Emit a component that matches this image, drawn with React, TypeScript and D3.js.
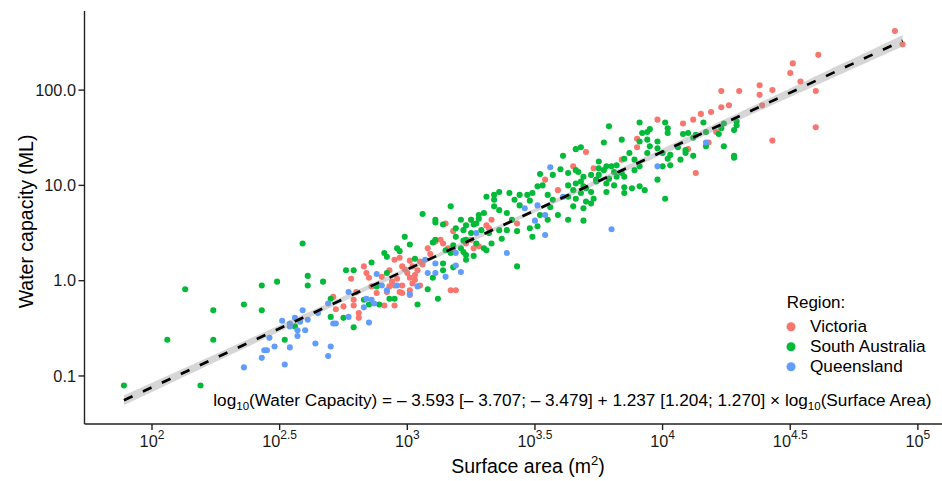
import React from 'react';
import * as d3 from 'd3';

// log10(surface area, m^2) and log10(water capacity, ML) per region
const vicLogArea = [3.15, 3.18, 3.13, 3.11, 3.14, 3.16, 3.26, 3.25, 3.01, 3.05, 3.02, 2.98, 2.95, 2.97, 2.93, 2.83, 2.84, 2.78, 2.85, 2.90, 3.00, 3.04, 3.01, 3.03, 2.98, 3.05, 3.01, 2.97, 2.95, 2.93, 2.86, 2.80, 2.88, 2.92, 2.98, 3.01, 2.91, 2.95, 2.79, 2.75, 2.81, 2.81, 3.17, 3.19, 3.23, 3.08, 3.09,
  2.99, 3.03, 2.96, 3.06, 2.94, 3.02, 2.71, 2.72, 2.79,
  3.70, 3.65, 3.54, 3.59, 3.33, 3.31, 3.25, 3.32, 3.18, 3.28, 3.43, 3.73,
  4.23, 4.30, 4.26, 4.23, 4.19, 4.15, 4.12, 4.08, 3.98, 3.90, 3.90, 4.18, 4.10, 3.84, 3.79, 4.13, 4.21,
  4.91, 4.94, 4.61, 4.51, 4.50, 4.54, 4.60, 4.38, 4.38, 4.43, 4.60, 4.43, 4.39];
const vicLogCap = [0.60, 0.52, 0.43, 0.41, 0.39, 0.34, 0.34, 0.43, 0.21, 0.20, 0.15, 0.15, 0.22, 0.24, 0.11, 0.15, 0.08, 0.02, 0.03, 0.04, 0.08, 0.11, 0.03, 0.01, -0.05, -0.05, -0.10, -0.12, -0.05, -0.06, -0.06, -0.12, -0.13, -0.12, -0.13, -0.15, -0.26, -0.26, -0.26, -0.27, -0.34, -0.39, -0.10, -0.10, 0.39, 0.34, 0.28,
  0.12, 0.06, 0.02, 0.17, -0.01, -0.03, -0.17, -0.30, -0.20,
  1.35, 1.20, 1.06, 0.95, 0.64, 0.58, 0.64, 0.55, 0.32, 0.36, 0.60, 1.18,
  1.99, 1.99, 1.84, 1.82, 1.77, 1.75, 1.69, 1.65, 1.69, 1.49, 1.40, 1.45, 1.38, 1.27, 1.07, 1.13, 1.56,
  2.62, 2.48, 2.37, 2.28, 2.18, 2.09, 1.99, 2.05, 1.95, 2.00, 1.61, 1.47, 1.84];

const saLogArea = [2.59, 2.61, 2.61, 2.49, 2.43, 2.13, 2.36, 2.24, 2.43, 2.06, 2.24, 2.52, 1.89, 2.19, 2.56,
  3.17, 3.06, 3.11, 3.14, 3.21, 3.25, 3.28, 3.23, 3.26, 3.19, 3.22, 3.10, 2.99, 3.01, 2.91, 2.92, 2.96, 2.97, 3.03, 2.86, 2.76, 2.79, 2.92, 2.67, 3.17, 3.22, 3.23, 3.26, 3.14, 3.18, 3.10, 3.08, 3.12, 3.04, 2.95, 2.93, 2.89, 2.85, 2.83, 2.70, 2.70, 2.75, 2.79, 2.88,
  3.66, 3.68, 3.61, 3.52, 3.57, 3.60, 3.63, 3.67, 3.63, 3.66, 3.70, 3.74, 3.72, 3.73, 3.72, 3.68, 3.66, 3.63, 3.65, 3.69, 3.69, 3.63, 3.59, 3.56, 3.57, 3.55, 3.53, 3.51, 3.49, 3.47, 3.44, 3.42, 3.40, 3.36, 3.34, 3.31, 3.44, 3.48, 3.52, 3.55, 3.51, 3.48, 3.49, 3.43, 3.41, 3.39, 3.36, 3.34, 3.34, 3.30, 3.28, 3.27, 3.19, 3.22, 3.25, 3.29, 3.32, 3.36, 3.39, 3.37, 3.33, 3.30, 3.27, 3.23, 3.18, 3.15, 3.21, 3.23, 3.31, 3.11, 3.11, 3.43, 3.14,
  3.91, 3.79, 4.01, 4.02, 4.02, 3.95, 3.94, 3.92, 4.16, 4.24, 4.23, 4.29, 4.28, 4.10, 4.13, 4.08, 4.12, 3.77, 3.84, 3.91, 3.94, 3.98, 3.95, 3.98, 3.94, 4.00, 4.03, 4.02, 4.06, 4.09, 4.09, 4.12, 4.07, 4.03, 4.00, 4.17, 4.24, 4.28, 3.87, 3.89, 3.91, 3.89, 3.85, 3.82, 3.80, 3.75, 3.75, 3.77, 3.78, 3.81, 3.84, 3.85, 3.82, 3.79, 3.75, 3.72, 3.69, 3.66, 3.68, 3.74, 3.78, 3.81, 3.85, 3.88, 3.91, 3.93, 3.78, 3.85, 3.69, 3.65, 3.70, 3.98, 4.01,
  4.22, 4.17, 4.29, 4.28];
const saLogCap = [0.39, 0.05, -0.05, -0.01, -0.05, -0.09, -0.25, -0.31, -0.31, -0.62, -0.62, -0.62, -1.10, -1.10, -0.48,
  0.78, 0.70, 0.61, 0.59, 0.64, 0.64, 0.69, 0.58, 0.59, 0.46, 0.42, 0.40, 0.46, 0.38, 0.29, 0.25, 0.34, 0.31, 0.23, 0.19, 0.11, 0.11, 0.08, -0.01, 0.29, 0.30, 0.22, 0.26, 0.11, 0.14, 0.03, -0.09, -0.19, -0.25, -0.19, -0.19, -0.25, -0.25, -0.20, -0.19, -0.38, -0.39, -0.49, -0.06,
  1.38, 1.40, 1.31, 1.12, 1.11, 1.17, 1.13, 1.14, 1.00, 1.02, 0.97, 1.06, 0.93, 0.86, 0.81, 0.92, 0.86, 0.88, 0.78, 0.76, 0.63, 0.64, 0.69, 0.77, 0.85, 0.90, 1.00, 0.99, 0.92, 0.90, 0.90, 0.85, 0.92, 0.93, 0.90, 0.88, 0.79, 0.84, 0.69, 0.64, 0.57, 0.55, 0.46, 0.52, 0.64, 0.71, 0.74, 0.85, 0.78, 0.71, 0.65, 0.60, 0.55, 0.53, 0.50, 0.53, 0.50, 0.53, 0.53, 0.44, 0.39, 0.34, 0.39, 0.43, 0.37, 0.32, 0.34, 0.27, 0.32, 0.43, 0.64, 0.15, 0.18,
  1.66, 1.62, 1.66, 1.60, 1.55, 1.59, 1.56, 1.55, 1.66, 1.65, 1.60, 1.63, 1.58, 1.55, 1.53, 1.54, 1.50, 1.45, 1.48, 1.46, 1.48, 1.46, 1.41, 1.39, 1.34, 1.34, 1.32, 1.28, 1.40, 1.37, 1.34, 1.31, 1.27, 1.21, 1.20, 1.41, 1.41, 1.31, 1.34, 1.27, 1.20, 1.16, 1.28, 1.21, 1.20, 1.25, 1.18, 1.16, 1.20, 1.14, 1.13, 1.09, 1.09, 1.07, 1.11, 1.11, 1.09, 1.16, 1.04, 1.04, 1.02, 1.00, 0.98, 0.97, 0.99, 0.95, 0.93, 0.92, 0.99, 0.95, 0.83, 1.06, 0.86,
  1.54, 1.56, 1.67, 1.29];

const qldLogArea = [2.59, 2.51, 2.54, 2.56, 2.58, 2.61, 2.65, 2.54, 2.57, 2.60, 2.57, 2.46, 2.48, 2.44, 2.45, 2.54, 2.64, 2.43, 2.36, 2.52, 2.70, 2.69,
  3.27, 3.19, 3.07, 3.11, 3.08, 3.11, 3.15, 3.21, 2.88, 2.90, 2.92, 2.96, 3.01, 3.04, 2.77, 2.84, 2.86, 2.87, 2.83, 2.69, 2.77, 2.71, 2.72, 2.85,
  3.56, 3.46, 3.51, 3.50, 3.54, 3.54, 3.61, 3.39, 3.19, 3.80,
  4.17, 3.98];
const qldLogCap = [-0.31, -0.42, -0.45, -0.39, -0.43, -0.41, -0.34, -0.48, -0.52, -0.52, -0.58, -0.60, -0.69, -0.73, -0.73, -0.70, -0.66, -0.81, -0.91, -0.88, -0.69, -0.79,
  0.50, 0.29, 0.22, 0.18, 0.08, 0.08, 0.04, 0.09, 0.07, -0.05, -0.10, -0.05, -0.14, -0.06, -0.12, -0.19, -0.20, -0.24, -0.28, -0.24, -0.38, -0.45, -0.45, -0.44,
  1.19, 0.76, 0.79, 0.63, 0.69, 0.48, 0.88, 0.29, 0.16, 0.54,
  1.45, 1.20];

const regionNames = ['Victoria', 'South Australia', 'Queensland'];
const regionColors = ['#F8766D', '#00BA38', '#619CFF'];
const regionAreas = [vicLogArea, saLogArea, qldLogArea];
const regionCaps = [vicLogCap, saLogCap, qldLogCap];

const xTickExponents = [2, 2.5, 3, 3.5, 4, 4.5, 5];
const xTickBase = ['10', '10', '10', '10', '10', '10', '10'];
const xTickSup = ['2', '2.5', '3', '3.5', '4', '4.5', '5'];
const yTickValues = [0.1, 1, 10, 100];
const yTickLabels = ['0.1', '1.0', '10.0', '100.0'];

const fitIntercept = -3.593;
const fitSlope = 1.237;

const W = 942;
const H = 481;
const FONT = '"Liberation Sans", Arial, Helvetica, sans-serif';

export default function App() {
  const x = d3.scaleLog().domain([10 ** 1.7356, 10 ** 5.0925]).range([84.5, 941.5]);
  const y = d3.scaleLog().domain([10 ** -1.504, 10 ** 2.83]).range([424, 11]);

  const points: { a: number; c: number; color: string }[] = [];
  regionAreas.forEach((arr, i) => {
    arr.forEach((la, j) => {
      points.push({ a: 10 ** la, c: 10 ** regionCaps[i][j], color: regionColors[i] });
    });
  });

  const allLx = regionAreas.flat();
  const minLx = d3.min(allLx) as number;
  const maxLx = d3.max(allLx) as number;
  const meanLx = 3.3;
  const steps = d3.range(0, 81).map((i) => minLx + ((maxLx - minLx) * i) / 80);
  const hw = (lx: number) => Math.sqrt(0.02 * 0.02 + (0.034 * (lx - meanLx)) ** 2);
  const fit = (lx: number) => fitIntercept + fitSlope * lx;

  const ribbon = d3
    .area<number>()
    .x((lx) => x(10 ** lx))
    .y0((lx) => y(10 ** (fit(lx) - hw(lx))))
    .y1((lx) => y(10 ** (fit(lx) + hw(lx))));
  const line = d3
    .line<number>()
    .x((lx) => x(10 ** lx))
    .y((lx) => y(10 ** fit(lx)));

  const axisColor = '#222';
  const textColor = '#1a1a1a';

  return (
    <svg width={W} height={H} style={{ position: 'absolute', left: 0, top: 0, background: '#fff' }} fontFamily={FONT}>
      <rect x={0} y={0} width={W} height={H} fill="#fff" />
      {points.map((p, i) => (
        <circle key={i} cx={x(p.a)} cy={y(p.c)} r={3.05} fill={p.color} />
      ))}
      <path d={ribbon(steps) || ''} fill="#999999" fillOpacity={0.4} />
      <path d={line([minLx, maxLx]) || ''} fill="none" stroke="#000" strokeWidth={2.7} strokeDasharray="9.5 11.4" />

      {/* axes */}
      <line x1={84.5} x2={84.5} y1={11} y2={424} stroke={axisColor} strokeWidth={1.4} />
      <line x1={84.5} x2={942} y1={424} y2={424} stroke={axisColor} strokeWidth={1.4} />
      {yTickValues.map((v, i) => (
        <g key={'y' + i}>
          <line x1={78.5} x2={84.5} y1={y(v)} y2={y(v)} stroke={axisColor} strokeWidth={1.4} />
          <text x={76} y={y(v) + 5.8} textAnchor="end" fontSize={16.3} fill={textColor}>
            {yTickLabels[i]}
          </text>
        </g>
      ))}
      {xTickExponents.map((e, i) => (
        <g key={'x' + i}>
          <line x1={x(10 ** e)} x2={x(10 ** e)} y1={424} y2={430} stroke={axisColor} strokeWidth={1.4} />
          <text x={x(10 ** e)} y={446.7} textAnchor="middle" fontSize={16.3} fill={textColor}>
            <tspan>{xTickBase[i]}</tspan>
            <tspan dy={-8} fontSize={12}>{xTickSup[i]}</tspan>
          </text>
        </g>
      ))}

      {/* axis titles */}
      <text x={528} y={473.3} textAnchor="middle" fontSize={19.5} fill="#000">
        <tspan>Surface area (m</tspan>
        <tspan dy={-8} fontSize={13}>2</tspan>
        <tspan dy={8}>)</tspan>
      </text>
      <text transform="translate(32.5,221.5) rotate(-90)" textAnchor="middle" fontSize={19.5} fill="#000">
        Water capacity (ML)
      </text>

      {/* equation */}
      <text x={213.3} y={406} fontSize={17.2} fill="#000">
        <tspan>log</tspan>
        <tspan dy={4} fontSize={11.5}>10</tspan>
        <tspan dy={-4}>(Water Capacity) = – 3.593 [– 3.707; – 3.479] + 1.237 [1.204; 1.270] × log</tspan>
        <tspan dy={4} fontSize={11.5}>10</tspan>
        <tspan dy={-4}>(Surface Area)</tspan>
      </text>

      {/* legend */}
      <text x={786.7} y={308.3} fontSize={17} fill="#000">Region:</text>
      {regionNames.map((name, i) => (
        <g key={name}>
          <circle cx={791} cy={326.7 + i * 20} r={4.5} fill={regionColors[i]} />
          <text x={810} y={326.7 + i * 20 + 5.4} fontSize={17.2} fill="#000">
            {name}
          </text>
        </g>
      ))}
    </svg>
  );
}
